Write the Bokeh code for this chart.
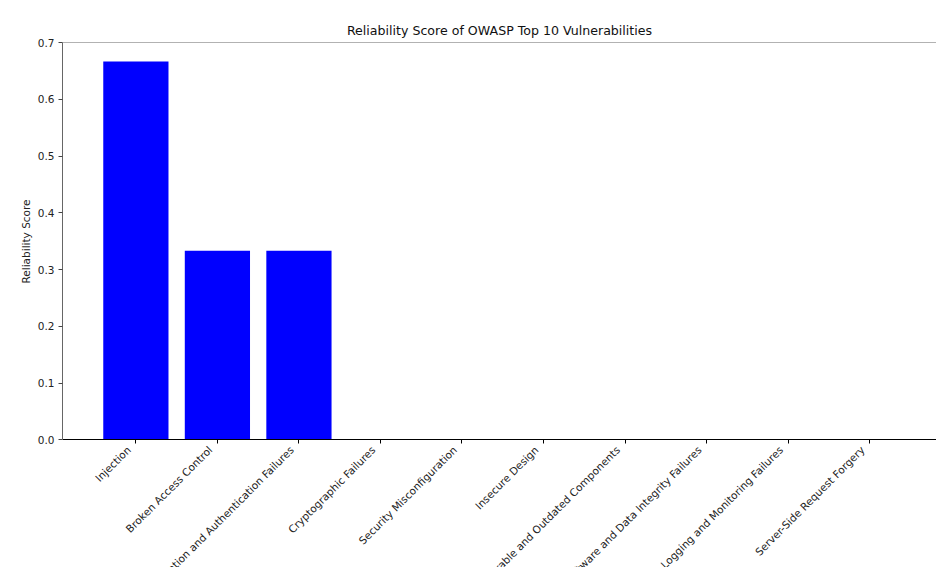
import math
from bokeh.plotting import figure
from bokeh.models import FixedTicker, Range1d, Span, PrintfTickFormatter, ColumnDataSource, Title
from bokeh.embed import file_html
from bokeh.resources import INLINE

# ---- data ----
categories = [
    "Injection",
    "Broken Access Control",
    "Identification and Authentication Failures",
    "Cryptographic Failures",
    "Security Misconfiguration",
    "Insecure Design",
    "Vulnerable and Outdated Components",
    "Software and Data Integrity Failures",
    "Security Logging and Monitoring Failures",
    "Server-Side Request Forgery",
]
scores = [0.6667, 0.3333, 0.3333, 0.0, 0.0, 0.0, 0.0, 0.0, 0.0, 0.0]
y_ticks = [0.0, 0.1, 0.2, 0.3, 0.4, 0.5, 0.6, 0.7]
title_text = "Reliability Score of OWASP Top 10 Vulnerabilities"
y_label = "Reliability Score"

FONT = "DejaVu Sans"
positions = list(range(len(categories)))
PAD = "\u00a0\u00a0\u00a0"  # shifts the rotated label so its end sits just left of the tick, as in matplotlib

src = ColumnDataSource(dict(x=positions, top=scores))

p = figure(
    width=936, height=567,
    output_backend="svg", toolbar_location=None,
    x_range=Range1d(-0.9, 9.82), y_range=Range1d(-0.225, 0.7),
    min_border_left=62, min_border_right=0, min_border_top=42, min_border_bottom=0,
    title=title_text,
)
p.background_fill_color = "white"
p.border_fill_color = "white"
p.outline_line_color = None
p.grid.visible = False

p.title.align = "center"
p.title.text_font = FONT
p.title.text_font_size = "12.6px"
p.title.text_font_style = "normal"
p.title.text_color = "#111111"
p.title.standoff = 9

p.vbar(x="x", top="top", width=0.8, source=src, fill_color="#0000ff", line_color=None)

# top spine
p.add_layout(Span(location=0.7, dimension="width", line_color="#666666", line_width=1))

# x axis, pinned at y = 0
xa = p.xaxis[0]
xa.fixed_location = 0
xa.ticker = FixedTicker(ticks=positions)
xa.major_label_overrides = {i: c + PAD for i, c in zip(positions, categories)}
xa.major_label_orientation = math.pi / 4
xa.major_tick_out = 4
xa.major_tick_in = 0
xa.minor_tick_line_color = None
xa.axis_line_color = "black"
xa.major_tick_line_color = "black"
xa.major_label_standoff = -3
xa.major_label_text_font = FONT
xa.major_label_text_font_size = "10.5px"
xa.major_label_text_color = "#222222"

# y axis
ya = p.yaxis[0]
ya.bounds = (0, 0.7)
ya.ticker = FixedTicker(ticks=y_ticks)
ya.formatter = PrintfTickFormatter(format="%.1f")
ya.major_tick_out = 4
ya.major_tick_in = 0
ya.minor_tick_line_color = None
ya.axis_line_color = "#666666"
ya.major_tick_line_color = "#444444"
ya.major_label_standoff = 4
ya.major_label_text_font = FONT
ya.major_label_text_font_size = "10.5px"
ya.major_label_text_color = "#222222"

# y axis label, centred on the 0..0.7 span of the axis
ylab = Title(
    text=y_label, align="left", offset=284, standoff=6,
    text_font=FONT, text_font_size="10.5px", text_font_style="normal", text_color="#222222",
)
p.add_layout(ylab, "left")

open("out.html", "w").write(file_html(p, INLINE))
